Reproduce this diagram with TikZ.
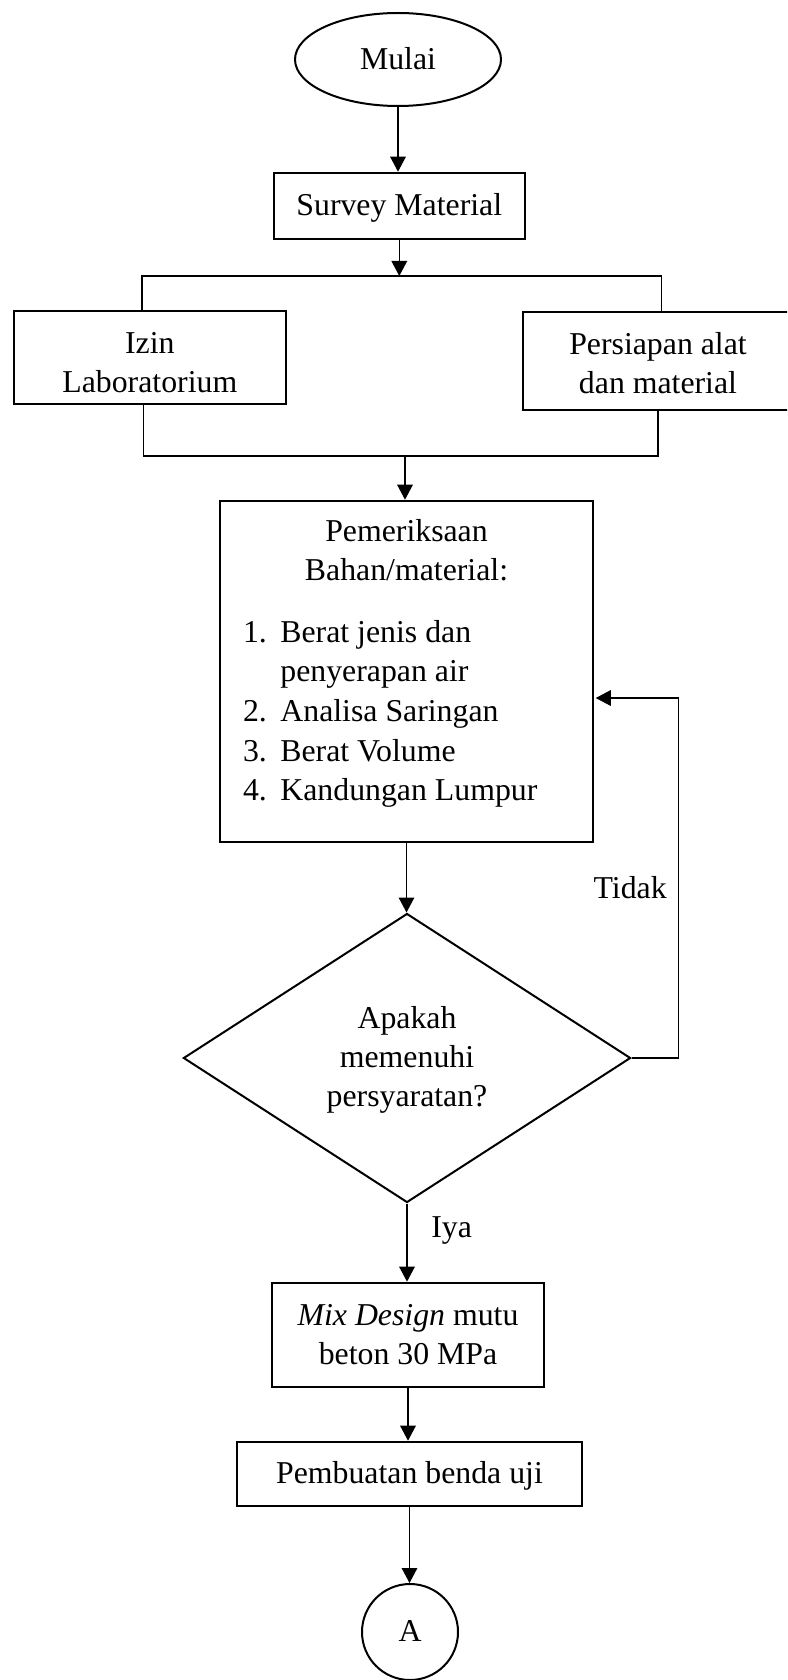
\documentclass[tikz,border=0pt]{standalone}
\usepackage{fontspec}
\setmainfont{Liberation Serif}
\usetikzlibrary{shapes.geometric,arrows.meta}
\newcommand\fs{\fontsize{15.9}{19.5}\selectfont}
\newcommand\fsl{\fontsize{15.9}{19.85}\selectfont}
\newcommand\st{\rule[-4.9pt]{0pt}{19.5pt}}
\tikzset{
  box/.style={draw, line width=1pt, rectangle, inner sep=0pt, align=center, font=\fs},
  conn/.style={line width=0.6pt},
  arr/.style={conn, -{Triangle[length=7.5pt,width=7.8pt]}},
  lbl/.style={font=\fs, inner sep=0pt}
}
\begin{document}
\begin{tikzpicture}[x=0.5pt,y=-0.5pt]
\useasboundingbox (0,0) rectangle (787,1680);
\fill[white] (0,0) rectangle (787,1680);
\clip (0,0) rectangle (787,1680);

% nodes
\node[draw, ellipse, line width=1pt, minimum width=103pt, minimum height=46.5pt, inner sep=0pt, font=\fs] (mulai) at (398,59.5) {Mulai\st};
\node[box, minimum width=125.75pt, minimum height=33pt] (survey) at (399.3,205.7) {Survey Material\st};
\node[box, minimum width=136.25pt, minimum height=46.65pt] (izin) at (149.8,357.3) {\rule[-4.9pt]{0pt}{25.1pt}Izin\\Laboratorium\st};
\node[box, minimum width=135.5pt, minimum height=49pt] (persiapan) at (658,361.2) {\rule[-4.9pt]{0pt}{22.6pt}Persiapan alat\\dan material\st};
\node[box, minimum width=186.25pt, minimum height=170.4pt] (periksa) at (406.5,671.1) {};
\node[lbl, align=center, font=\fsl] (periksaHead) at (406.5,553) {Pemeriksaan\strut\\Bahan/material:\strut};
\node[lbl, anchor=north west, font=\fsl] (periksaList) at (242.6,614)
  {\begin{tabular}{@{}p{18.7pt}@{}l@{}}
   1. & Berat jenis dan\\
      & penyerapan air\\
   2. & Analisa Saringan\\
   3. & Berat Volume\\
   4. & Kandungan Lumpur
   \end{tabular}};
\node[draw, diamond, line width=1pt, minimum width=223.6pt, minimum height=144.5pt, inner sep=0pt, align=center, font=\fs] (dia) at (407,1058) {Apakah\st\\memenuhi\st\\persyaratan?\st};
\node[box, minimum width=136.35pt, minimum height=52.35pt] (mix) at (408,1335) {\textit{Mix Design} mutu\st\\beton 30 MPa\st};
\node[box, minimum width=172.85pt, minimum height=32pt] (pemb) at (409.5,1473.7) {Pembuatan benda uji\st};
\node[draw, circle, line width=1pt, minimum size=48pt, inner sep=0pt, font=\fs] (cA) at (410,1632) {A\st};

\node[lbl] (tidak) at (630.2,888.5) {Tidak\st};
\node[lbl] (iya) at (451.7,1228) {Iya\st};

% junction coordinates
\coordinate (bt) at (398,276);
\coordinate (btL) at (142,276);
\coordinate (btR) at (661.5,276);
\coordinate (bbL) at (143.5,456);
\coordinate (bbR) at (658,456);
\coordinate (bbM) at (405,456);
\coordinate (fb) at (678.5,698);

% connectors
\draw[arr] (mulai.south) -- (mulai.south |- survey.north);
\draw[arr] (survey.south) -- (survey.south |- bt);
\draw[conn] (btL |- izin.north) -- (btL) -- (btR) -- (btR |- persiapan.north);
\draw[conn] (bbL |- izin.south) -- (bbL) -- (bbR) -- (bbR |- persiapan.south);
\draw[arr] (bbM) -- (bbM |- periksa.north);
\draw[arr] (periksa.south) -- (periksa.south |- dia.north);
\draw[arr, shorten >=1pt] (dia.east) -| (fb) -- (fb -| periksa.east);
\draw[arr] (dia.south) -- (dia.south |- mix.north);
\draw[arr] (mix.south) -- (mix.south |- pemb.north);
\draw[arr] (pemb.south) -- (pemb.south |- cA.north);
\end{tikzpicture}
\end{document}
